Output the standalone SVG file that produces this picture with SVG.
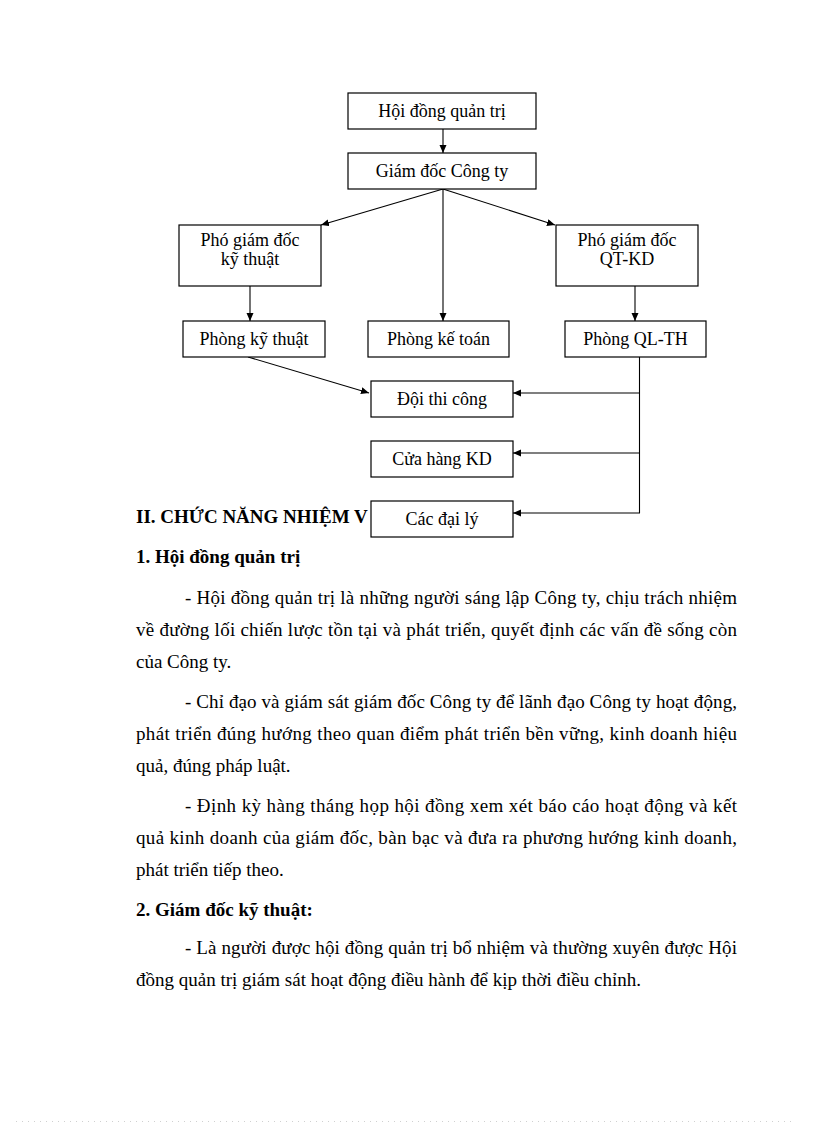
<svg xmlns="http://www.w3.org/2000/svg" width="816" height="1123" viewBox="0 0 816 1123">
<style>
.box{fill:#fff;stroke:#000;stroke-width:1.2}
.bt{font-family:"Liberation Serif","Times New Roman",serif;font-size:18px;fill:#000;text-anchor:middle}
.tx{font-family:"Liberation Serif","Times New Roman",serif;font-size:19px;fill:#000}
.hd{font-family:"Liberation Serif","Times New Roman",serif;font-size:19px;font-weight:bold;fill:#000}
.cn{fill:none;stroke:#000;stroke-width:1.1}
</style>
<defs>
<marker id="ah" markerUnits="userSpaceOnUse" markerWidth="9" markerHeight="8" refX="8" refY="3.5" orient="auto">
<path d="M0,0 L8,3.5 L0,7 z" fill="#000"/>
</marker>
</defs>
<rect width="816" height="1123" fill="#fff"/>

<g id="text">
<text class="hd" x="136" y="523">II. CHỨC NĂNG NHIỆM V</text>
<text class="hd" x="136" y="563">1. Hội đồng quản trị</text>
<text class="tx" x="185" y="604" textLength="552" lengthAdjust="spacing">- Hội đồng quản trị là những người sáng lập Công ty, chịu trách nhiệm</text>
<text class="tx" x="136" y="636" textLength="601" lengthAdjust="spacing">về đường lối chiến lược tồn tại và phát triển, quyết định các vấn đề sống còn</text>
<text class="tx" x="136" y="668">của Công ty.</text>
<text class="tx" x="185" y="708" textLength="552" lengthAdjust="spacing">- Chỉ đạo và giám sát giám đốc Công ty để lãnh đạo Công ty hoạt động,</text>
<text class="tx" x="136" y="740" textLength="601" lengthAdjust="spacing">phát triển đúng hướng theo quan điểm phát triển bền vững, kinh doanh hiệu</text>
<text class="tx" x="136" y="772">quả, đúng pháp luật.</text>
<text class="tx" x="185" y="812" textLength="552" lengthAdjust="spacing">- Định kỳ hàng tháng họp hội đồng xem xét báo cáo hoạt động và kết</text>
<text class="tx" x="136" y="844" textLength="601" lengthAdjust="spacing">quả kinh doanh của giám đốc, bàn bạc và đưa ra phương hướng kinh doanh,</text>
<text class="tx" x="136" y="876">phát triển tiếp theo.</text>
<text class="hd" x="136" y="916">2. Giám đốc kỹ thuật:</text>
<text class="tx" x="185" y="954" textLength="552" lengthAdjust="spacing">- Là người được hội đồng quản trị bổ nhiệm và thường xuyên được Hội</text>
<text class="tx" x="136" y="986">đồng quản trị giám sát hoạt động điều hành để kịp thời điều chỉnh.</text>
</g>

<g id="connectors">
<line class="cn" x1="443" y1="129" x2="443" y2="153" marker-end="url(#ah)"/>
<line class="cn" x1="443" y1="189" x2="321" y2="225" marker-end="url(#ah)"/>
<line class="cn" x1="443" y1="189" x2="555" y2="225" marker-end="url(#ah)"/>
<line class="cn" x1="443" y1="189" x2="443" y2="321" marker-end="url(#ah)"/>
<line class="cn" x1="250" y1="286" x2="250" y2="321" marker-end="url(#ah)"/>
<line class="cn" x1="635" y1="286" x2="635" y2="321" marker-end="url(#ah)"/>
<line class="cn" x1="248" y1="357" x2="369" y2="393" marker-end="url(#ah)"/>
<polyline class="cn" points="639.5,357 639.5,513 513,513" marker-end="url(#ah)"/>
<line class="cn" x1="639.5" y1="393" x2="513" y2="393" marker-end="url(#ah)"/>
<line class="cn" x1="639.5" y1="453" x2="513" y2="453" marker-end="url(#ah)"/>
</g>

<g id="n-hdqt"><rect class="box" x="348" y="93" width="188" height="36"/><text class="bt" x="442" y="117">Hội đồng quản trị</text></g>
<g id="n-gd"><rect class="box" x="348" y="153" width="188" height="36"/><text class="bt" x="442" y="177">Giám đốc Công ty</text></g>
<g id="n-pgdkt"><rect class="box" x="179" y="225" width="142" height="61"/><text class="bt" x="250" y="246">Phó giám đốc</text><text class="bt" x="250" y="265">kỹ thuật</text></g>
<g id="n-pgdqt"><rect class="box" x="556" y="225" width="142" height="61"/><text class="bt" x="627" y="246">Phó giám đốc</text><text class="bt" x="627" y="265">QT-KD</text></g>
<g id="n-pkt"><rect class="box" x="183" y="321" width="142" height="36"/><text class="bt" x="254" y="345">Phòng kỹ thuật</text></g>
<g id="n-pkto"><rect class="box" x="368" y="321" width="141" height="36"/><text class="bt" x="438.5" y="345">Phòng kế toán</text></g>
<g id="n-pql"><rect class="box" x="565" y="321" width="141" height="36"/><text class="bt" x="635.5" y="345">Phòng QL-TH</text></g>
<g id="n-dtc"><rect class="box" x="371" y="381" width="142" height="36"/><text class="bt" x="442" y="405">Đội thi công</text></g>
<g id="n-chkd"><rect class="box" x="371" y="441" width="142" height="36"/><text class="bt" x="442" y="465">Cửa hàng KD</text></g>
<g id="n-cdl"><rect class="box" x="371" y="501" width="142" height="36"/><text class="bt" x="442" y="525">Các đại lý</text></g>

<line x1="16" y1="1121.5" x2="792" y2="1121.5" stroke="#d0d0d0" stroke-width="1" stroke-dasharray="1 5"/>
</svg>
